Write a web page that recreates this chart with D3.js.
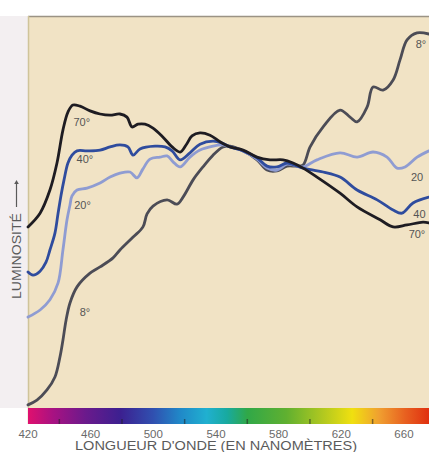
<!DOCTYPE html>
<html><head><meta charset="utf-8">
<script src="https://cdn.jsdelivr.net/npm/d3@7"></script>
<style>html,body{margin:0;padding:0;background:#fff;overflow:hidden}</style>
</head><body>
<svg id="c" width="429" height="452"></svg>
<script>
// Wavelength (nm) and relative luminosity (0-100) for each viewing angle
const wl70 = [420,427.7,434,438.5,442.3,445.5,448.7,453.2,459.6,466,472.4,478.7,483.2,486.4,490.2,494.7,499.8,506.2,512,517.1,520.9,524.7,529.8,536.2,542.6,549,557.3,566.2,574.5,582.8,589.2,595.6,604.5,619.2,630.1,644.8,653.1,662,672.2,676];
const lum70 = [46.2,49.7,55.6,62.5,70.9,75.5,77.3,77.0,75.8,75.0,74.7,75.0,74.2,71.7,72.4,72.4,71.4,69.1,66.6,65.3,67.1,69.4,70.2,69.6,67.9,66.6,65.8,64.0,63.3,63.3,62.5,61.2,58.9,54.8,51.3,48.0,46.2,46.7,47.4,47.2];

const wl40 = [420,423.2,427.7,431.5,434,437.2,439.2,441.1,443,445.5,448.1,451.3,457.7,466,472.4,478.7,483.8,487.1,491.5,501.1,507.5,512,517.1,523.4,529.8,538.1,543.9,549,557.3,566.2,572.6,579,585.4,591.8,595.6,608.4,619.2,630.1,642.9,653.1,658.8,665.8,676];
const lum40 = [34.7,33.9,34.9,37.2,40.3,44.6,49.7,54.3,58.2,62.5,64.5,65.6,65.6,65.8,66.6,67.1,66.6,64.5,66.1,66.8,66.6,65.6,63.3,65.1,67.3,68.1,67.6,66.6,65.6,63.8,61.7,61.5,62.5,61.7,61.2,60.2,58.9,55.6,53.1,50.5,49.7,52.3,53.8];

const wl20 = [420,427.7,434,439.2,442.3,444.9,446.8,448.1,451.3,457.7,466,472.4,478.7,485.1,489.6,493.4,497.9,504.3,508.8,512.6,517.1,523.4,529.8,538.1,543.9,549,557.3,566.2,572.6,579,585.4,591.8,595.6,604.5,619.2,630.1,640.3,649.2,655.6,660.7,668.4,676];
const lum20 = [23.2,25.0,27.6,31.9,40.3,48.0,51.8,54.1,55.6,56.1,57.4,58.9,59.9,60.2,58.7,61.0,63.5,64.0,64.3,62.8,61.5,64.0,65.8,66.8,67.1,66.6,65.6,63.5,61.2,60.7,62.2,61.7,61.5,63.3,65.1,64.0,65.3,64.0,61.2,61.5,64.0,65.6];

const wl8 = [420,425.7,432.1,437.2,440.4,442.3,444.3,446.8,451.3,459.6,466,474.3,478.7,487.1,493.4,496,499.8,508.8,515.1,519,525.4,531.7,538.1,544.5,549,557.3,566.2,572.6,579,585.4,591.8,595.6,600.1,608.4,619.2,625.6,630.1,636.5,640.3,646.7,653.1,657.5,662,668.4,676];
const lum8 = [0.8,2.0,4.6,7.9,13.0,17.3,22.4,26.8,30.9,34.4,36.0,38.3,40.3,43.6,46.2,49.5,51.5,53.1,52.0,53.8,58.2,61.5,64.5,66.6,66.8,65.6,63.3,60.7,60.5,61.7,61.7,62.0,66.6,71.7,76.0,74.2,73.0,76.8,81.9,81.1,83.7,88.8,93.9,95.7,95.4];

const seriesNames = ["8°","20°","40°","70°"];
const tickLabels = [420,460,500,540,580,620,660];
const minorTicks = [440,480,520,560,600,640];
const spectrumNm = [420,436,457,479,500,517,534,547,560,585,608,627,644,661,676];
const spectrumColors = ["#e0106e","#a81282","#6a1a8c","#3c2090","#3050b0","#2088c8","#20b0d0","#18aaa0","#30a848","#60b030","#b0c820","#f0e010","#f0a030","#e86020","#e03010"];

const svg = d3.select("#c");
const x = d3.scaleLinear().domain([420,676]).range([28,429]);
const y = d3.scaleLinear().domain([0,100]).range([408,16]);

// backgrounds
svg.append("rect").attr("x",0).attr("y",16).attr("width",28).attr("height",392).attr("fill","#f3eff1");
svg.append("rect").attr("x",28).attr("y",16).attr("width",401).attr("height",392).attr("fill","#f1e3c5");
svg.append("line").attr("x1",28).attr("x2",429).attr("y1",16.5).attr("y2",16.5).attr("stroke","#9b9385").attr("stroke-width",1.5);
svg.append("line").attr("x1",28.5).attr("x2",28.5).attr("y1",16).attr("y2",424).attr("stroke","#cfc49a").attr("stroke-width",1.5);

// spectrum bar
const defs = svg.append("defs");
const grad = defs.append("linearGradient").attr("id","spec").attr("gradientUnits","userSpaceOnUse")
  .attr("x1",x(420)).attr("x2",x(676)).attr("y1",0).attr("y2",0);
spectrumNm.forEach((n,i)=>grad.append("stop").attr("offset",(x(n)-x(420))/(x(676)-x(420))).attr("stop-color",spectrumColors[i]));
svg.append("rect").attr("x",x(420)).attr("y",408).attr("width",x(676)-x(420)).attr("height",16).attr("fill","url(#spec)");
svg.selectAll(".mt").data(minorTicks).enter().append("line")
  .attr("x1",d=>x(d)).attr("x2",d=>x(d)).attr("y1",419).attr("y2",424)
  .attr("stroke","#222").attr("stroke-opacity",0.55).attr("stroke-width",1.5);

// tick labels
svg.selectAll(".tl").data(tickLabels).enter().append("text")
  .attr("x",d=>x(d)).attr("y",437.5).attr("text-anchor","middle")
  .attr("font-family","Liberation Sans, Arial, sans-serif").attr("font-size",11.5)
  .attr("fill","#6a6a6a").text(d=>d);

svg.append("text").attr("x",216).attr("y",450).attr("text-anchor","middle")
  .attr("font-family","Liberation Sans, Arial, sans-serif").attr("font-size",12.5)
  .attr("fill","#5a5a5a").attr("textLength",282).attr("lengthAdjust","spacingAndGlyphs")
  .text("LONGUEUR D'ONDE (EN NANOMÈTRES)");

// y label
const yl = svg.append("g").attr("transform","translate(21,256) rotate(-90)");
yl.append("text").attr("x",0).attr("y",0).attr("text-anchor","middle")
  .attr("font-family","Liberation Sans, Arial, sans-serif").attr("font-size",12)
  .attr("fill","#5a5a5a").attr("textLength",86).attr("lengthAdjust","spacingAndGlyphs").text("LUMINOSITÉ");
yl.append("line").attr("x1",49).attr("x2",72).attr("y1",-4.5).attr("y2",-4.5).attr("stroke","#5a5a5a").attr("stroke-width",1.2);
yl.append("path").attr("d","M72,-6.8 L76,-4.5 L72,-2.2 Z").attr("fill","#5a5a5a");

// curves
const line = d3.line().x(d=>x(d[0])).y(d=>y(d[1])).curve(d3.curveCatmullRom.alpha(0.5));
const series = [
  {wl:wl8, lum:lum8, color:"#4c4c56"},
  {wl:wl20, lum:lum20, color:"#8f9cd2"},
  {wl:wl40, lum:lum40, color:"#2f4c9e"},
  {wl:wl70, lum:lum70, color:"#1e1c22"}
];
const plot = svg.append("g");
series.forEach(s=>{
  plot.append("path").datum(s.wl.map((w,i)=>[w,s.lum[i]]))
    .attr("d",line).attr("fill","none").attr("stroke",s.color)
    .attr("stroke-width",2.8).attr("stroke-linejoin","round").attr("stroke-linecap","round");
});

// curve labels (placed in data space)
const lab = [
  {t:seriesNames[3], nm:449, v:72},
  {t:seriesNames[2], nm:451, v:62.5},
  {t:seriesNames[1], nm:449.5, v:50.8},
  {t:seriesNames[0], nm:453, v:23.5},
  {t:seriesNames[0], nm:667.5, v:91.8},
  {t:"20", nm:664.5, v:57.8},
  {t:"40", nm:666, v:48.5},
  {t:"70°", nm:663, v:43.3}
];
svg.selectAll(".cl").data(lab).enter().append("text")
  .attr("x",d=>x(d.nm)).attr("y",d=>y(d.v))
  .attr("font-family","Liberation Sans, Arial, sans-serif").attr("font-size",11)
  .attr("fill","#555").text(d=>d.t);
</script>
</body></html>
